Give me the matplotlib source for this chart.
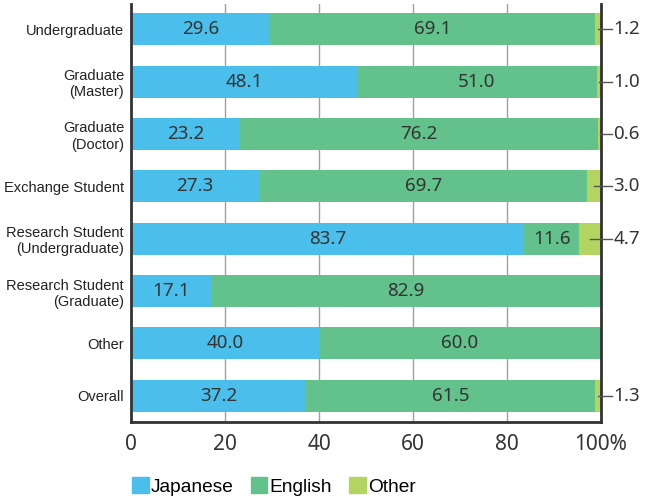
import matplotlib
matplotlib.use("Agg")
import matplotlib.pyplot as plt
from matplotlib.patches import Patch

categories = [
    "Undergraduate",
    "Graduate\n(Master)",
    "Graduate\n(Doctor)",
    "Exchange Student",
    "Research Student\n(Undergraduate)",
    "Research Student\n(Graduate)",
    "Other",
    "Overall",
]
japanese = [29.6, 48.1, 23.2, 27.3, 83.7, 17.1, 40.0, 37.2]
english = [69.1, 51.0, 76.2, 69.7, 11.6, 82.9, 60.0, 61.5]
other = [1.2, 1.0, 0.6, 3.0, 4.7, 0.0, 0.0, 1.3]
series_names = ["Japanese", "English", "Other"]
xticks = [0, 20, 40, 60, 80, 100]
xtick_labels = ["0", "20", "40", "60", "80", "100%"]

c_jp = "#4bbfec"
c_en = "#63c18b"
c_ot = "#b3d461"
num_font = ["Noto Sans", "DejaVu Sans"]
lbl_font = ["Liberation Sans", "DejaVu Sans"]

fig = plt.figure(figsize=(6.47, 5.0), dpi=100)
ax = fig.add_axes([0.2025, 0.156, 0.7265, 0.836])

y = list(range(len(categories)))
h = 0.61
left_en = japanese
left_ot = [j + e for j, e in zip(japanese, english)]
ax.barh(y, japanese, height=h, color=c_jp, zorder=2)
ax.barh(y, english, left=left_en, height=h, color=c_en, zorder=2)
ax.barh(y, other, left=left_ot, height=h, color=c_ot, zorder=2)

for i in y:
    ax.text(japanese[i] / 2, i, f"{japanese[i]:.1f}", ha="center", va="center",
            fontsize=13.5, color="#333333", family=num_font, zorder=3)
    ax.text(japanese[i] + english[i] / 2, i, f"{english[i]:.1f}", ha="center",
            va="center", fontsize=13.5, color="#333333", family=num_font, zorder=3)
    if other[i] > 0:
        start = left_ot[i] + other[i] / 2
        ax.plot([start, 102.4], [i, i], color="#555555", lw=1.0,
                clip_on=False, zorder=4)
        ax.text(102.6, i, f"{other[i]:.1f}", ha="left", va="center",
                fontsize=13.5, color="#333333", family=num_font, clip_on=False)

ax.set_xlim(0, 100)
ax.set_ylim(len(categories) - 0.5, -0.48)
ax.set_yticks(y)
ax.set_yticklabels(categories, fontsize=10.5, family=lbl_font, color="#222222",
                   linespacing=1.2)
ax.set_xticks(xticks)
ax.set_xticklabels(xtick_labels, fontsize=15, family=num_font, color="#333333")
ax.tick_params(axis="both", length=0)
ax.tick_params(axis="x", pad=9)
ax.tick_params(axis="y", pad=5)

ax.grid(axis="x", color="#a0a0a0", lw=1.0, zorder=0)
ax.spines["top"].set_visible(False)
for s in ("left", "right", "bottom"):
    ax.spines[s].set_color("#333333")
    ax.spines[s].set_linewidth(2.0)

handles = [Patch(color=c) for c in (c_jp, c_en, c_ot)]
fig.legend(handles, series_names, loc="lower left", bbox_to_anchor=(0.178, -0.026),
           ncol=3, frameon=False, handlelength=0.85, handleheight=0.85,
           handletextpad=0.12, columnspacing=0.9,
           prop={"family": lbl_font, "size": 13.8})

fig.savefig("out.png", dpi=100)
